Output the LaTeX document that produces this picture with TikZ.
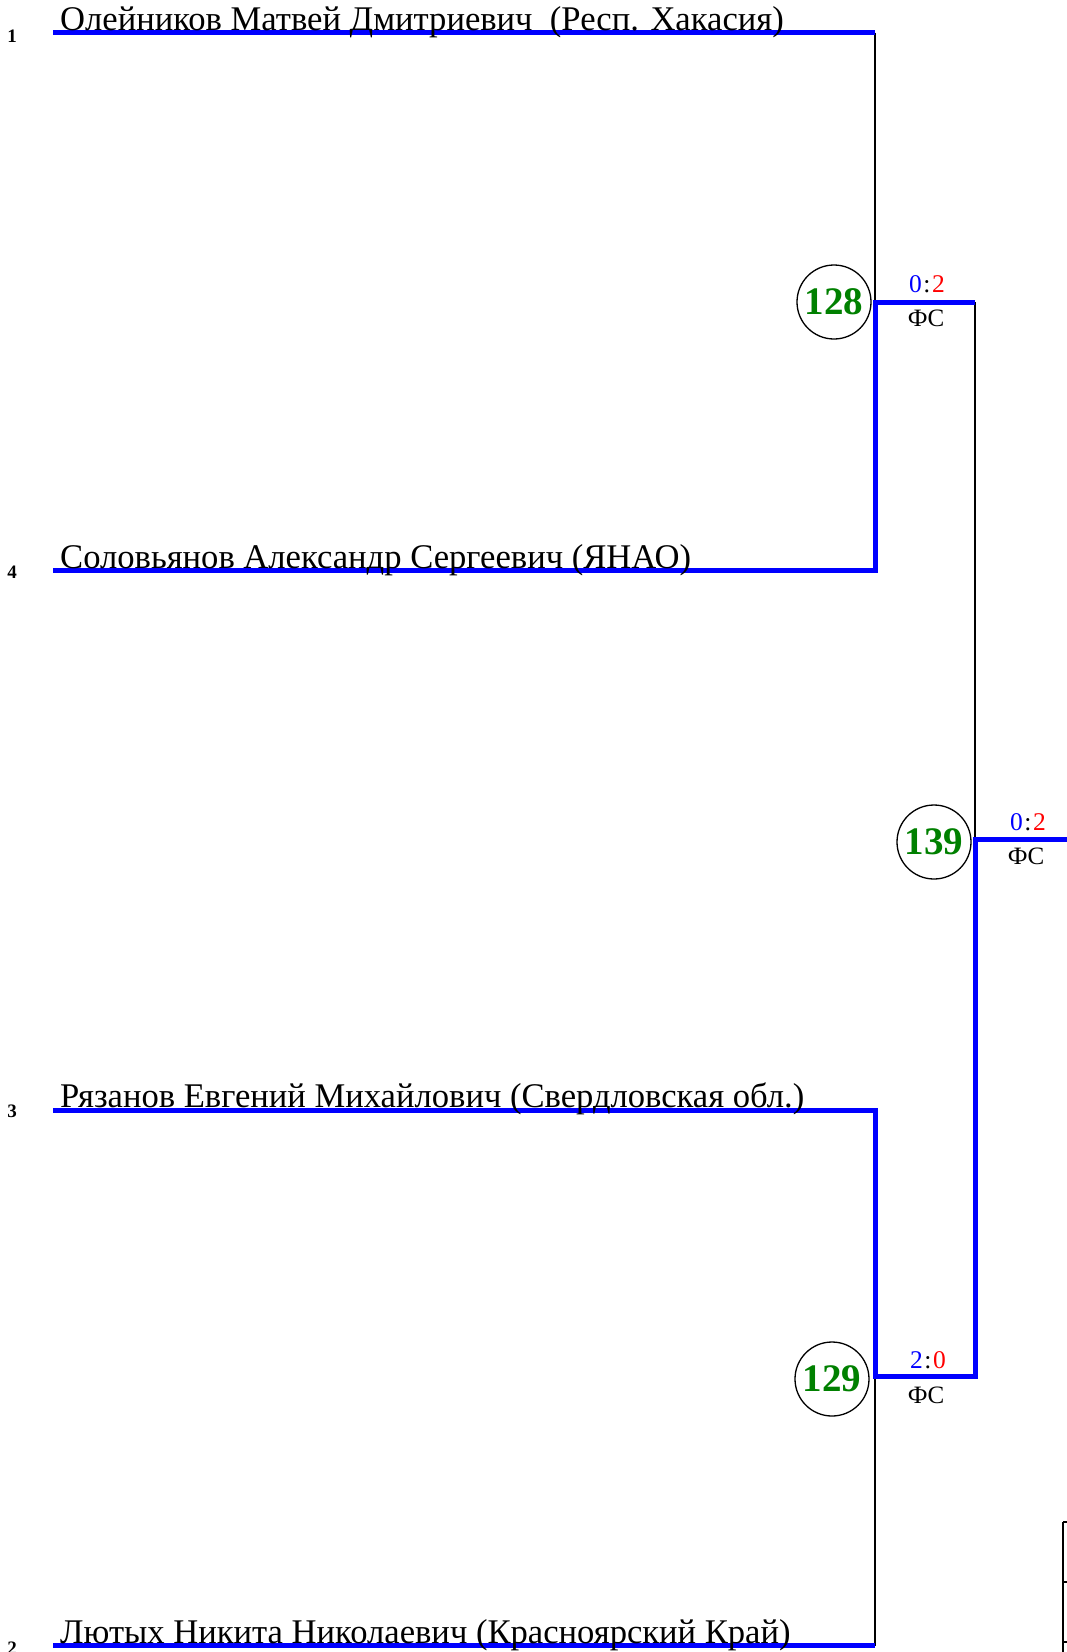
\documentclass[tikz,border=0pt]{standalone}
\usepackage{fontspec}
\setmainfont{Liberation Serif}
\definecolor{mgreen}{RGB}{0,128,0}
\definecolor{mblue}{RGB}{0,0,255}
\definecolor{mred}{RGB}{255,0,0}
\begin{document}
\begin{tikzpicture}[x=1pt,y=-1pt,
  win/.style={draw=mblue, line width=5pt, line join=miter},
  lose/.style={draw=black, line width=1.6pt},
  tbl/.style={draw=black, line width=2pt},
  pname/.style={anchor=base west, inner sep=0pt, font=\fontsize{34.6}{34.6}\selectfont},
  seed/.style={inner sep=0pt, font=\bfseries\fontsize{19}{19}\selectfont},
  match/.style={circle, draw, line width=1.3pt, minimum size=74pt, inner sep=0pt, text=mgreen, font=\bfseries\fontsize{39}{39}\selectfont},
  score/.style={inner sep=0pt, font=\fontsize{25.5}{25.5}\selectfont},
  method/.style={inner sep=0pt, font=\fontsize{25}{25}\selectfont}]
\useasboundingbox (0,0) rectangle (1066,1652);

% player line coordinates
\coordinate (p1s) at (53,32.5);   \coordinate (p1e) at (875,32.5);
\coordinate (p4s) at (53,570.5);  \coordinate (p4e) at (875,570.5);
\coordinate (p3s) at (53,1110);   \coordinate (p3e) at (875,1110);
\coordinate (p2s) at (53,1645.5); \coordinate (p2e) at (875,1645.5);
% match coordinates
\coordinate (m128) at (875,302);  \coordinate (m128e) at (975,302);
\coordinate (m129) at (875,1376); \coordinate (m129e) at (975,1376);
\coordinate (m139) at (975,839);  \coordinate (m139e) at (1070,839);

% losing connectors
\draw[lose] (p1e) -- (m128);
\draw[lose] (m128e) -- (m139);
\draw[lose] (m129) -- (p2e);

% winning paths
\draw[win] (p1s) -- (p1e);
\draw[win] (p4s) -- (p4e) -- (m128) -- (m128e);
\draw[win] (p3s) -- (p3e) -- (m129) -- (m129e) -- (m139) -- (m139e);
\draw[win] (p2s) -- (p2e);

% names
\node[pname] (n1) at (60,30) {Олейников Матвей Дмитриевич\ \ (Респ. Хакасия)};
\node[pname] (n4) at (60,568) {Соловьянов Александр Сергеевич (ЯНАО)};
\node[pname] (n3) at (60,1107.5) {Рязанов Евгений Михайлович (Свердловская обл.)};
\node[pname] (n2) at (60,1643) {Лютых Никита Николаевич (Красноярский Край)};

% seeds
\node[seed] (s1) at (12,36) {1};
\node[seed] (s4) at (12,572) {4};
\node[seed] (s3) at (12,1111) {3};
\node[seed] (s2) at (12,1648) {2};

% match circles
\node[match] (c128) at (834,302) {128};
\node[match] (c139) at (934,842) {139};
\node[match] (c129) at (832,1379) {129};

% scores
\node[score] (sc128) at (927,284) {\textcolor{mblue}{0}\kern1.5pt:\kern1.5pt\textcolor{mred}{2}};
\node[method] (f128) at (926,318) {ФС};
\node[score] (sc139) at (1028,822) {\textcolor{mblue}{0}\kern1.5pt:\kern1.5pt\textcolor{mred}{2}};
\node[method] (f139) at (1026,856) {ФС};
\node[score] (sc129) at (928,1360) {\textcolor{mblue}{2}\kern1.5pt:\kern1.5pt\textcolor{mred}{0}};
\node[method] (f129) at (926,1395) {ФС};

% table edge at bottom right
\coordinate (t1) at (1063,1522);
\coordinate (t2) at (1063,1582);
\coordinate (t3) at (1063,1642);
\coordinate (tb) at (1063,1660);
\draw[tbl] (t1) -- (tb);
\draw[tbl] (t1) -- ++(10,0);
\draw[tbl] (t2) -- ++(10,0);
\draw[tbl] (t3) -- ++(10,0);
\end{tikzpicture}
\end{document}
